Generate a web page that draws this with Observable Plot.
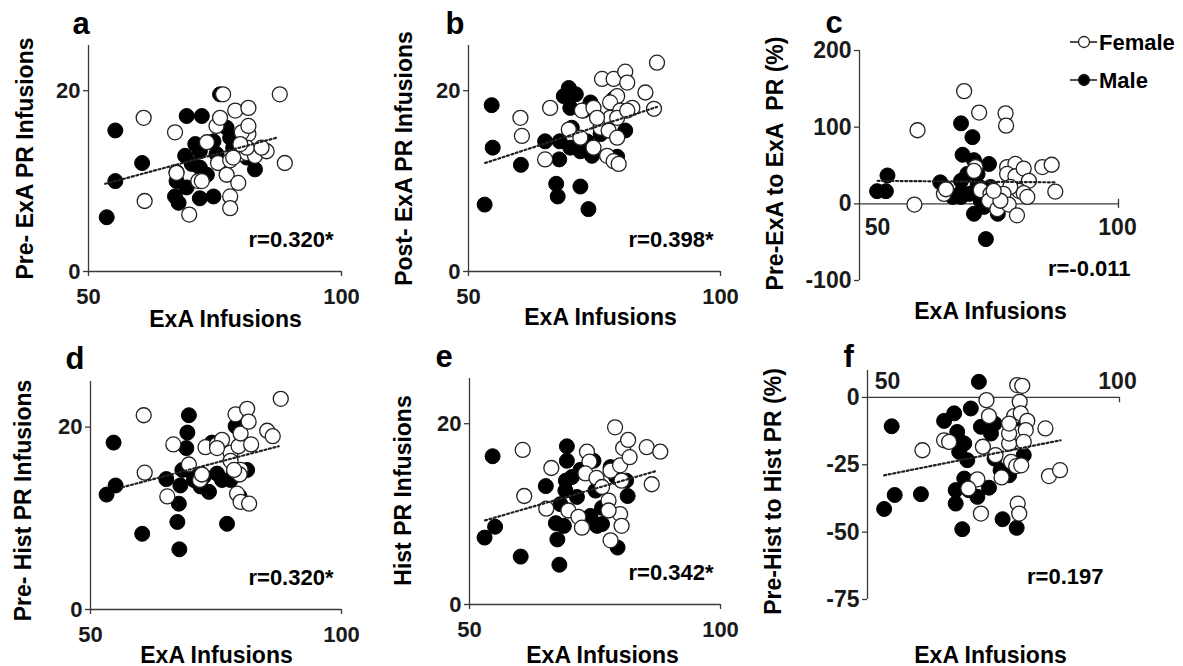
<!DOCTYPE html>
<html><head><meta charset="utf-8">
<script src="https://cdn.jsdelivr.net/npm/d3@7"></script>
<script src="https://cdn.jsdelivr.net/npm/@observablehq/plot@0.6"></script>
<style>
body{margin:0;background:#fff;}
#chart{position:relative;width:1183px;height:666px;overflow:hidden;background:#fff;font-family:"Liberation Sans",Arial,sans-serif;}
#chart > svg{position:absolute;overflow:visible;}
#chart text{white-space:pre;}
</style></head><body><div id="chart"></div>
<script>
// ---------- data ----------
const xTicks = [50, 100];
const yTicksCount = [0, 20];
const yTicksC = [-100, 0, 100, 200];
const yTicksF = [-75, -50, -25, 0];

const maleA = [[53.6,6.0],[55.3,15.6],[55.3,10.0],[60.6,12.0],[67.4,11.0],[69.4,17.2],[72.4,17.2],[71.1,14.1],[69.1,12.8],[70.4,11.9],[67.4,10.0],[69.4,9.3],[67.1,8.3],[67.8,7.6],[72.0,11.5],[73.4,10.7],[74.7,8.3],[72.0,8.1],[76.0,19.6],[74.7,14.4],[77.3,15.9],[78.0,14.8],[78.6,13.7],[82.9,11.3],[81.3,12.6],[72.0,13.3],[75.3,13.0]];
const femaleA = [[76.6,19.6],[87.8,19.6],[60.9,17.0],[67.1,15.4],[61.1,7.8],[67.4,10.9],[69.9,6.3],[71.7,10.0],[72.4,10.0],[73.4,14.3],[75.3,16.1],[76.0,17.0],[75.6,12.0],[77.3,10.7],[78.0,12.3],[79.0,17.8],[80.0,13.0],[81.6,18.1],[81.6,15.2],[80.3,15.4],[81.6,16.1],[81.3,13.1],[82.9,12.8],[81.3,13.7],[79.6,9.8],[78.0,8.3],[78.0,7.0],[85.2,13.3],[84.2,13.7],[88.8,12.0],[80.0,14.1],[78.6,12.6]];
const trendA = [[53.3,9.7],[87.2,14.8]];

const maleB = [[53.2,7.4],[54.6,18.4],[54.8,13.7],[60.4,11.8],[65.2,14.4],[68.1,14.4],[68.0,12.4],[67.4,9.7],[67.7,8.3],[72.2,9.4],[73.8,6.9],[69.9,20.3],[68.9,19.4],[71.3,19.6],[70.2,18.1],[72.8,17.8],[74.2,18.7],[70.5,15.9],[70.2,13.7],[72.2,13.3],[74.5,12.8],[73.5,14.4],[76.2,15.2],[78.8,19.1],[79.5,12.7],[81.1,15.6],[76.2,15.9]];
const femaleB = [[60.3,17.0],[60.6,15.0],[65.2,12.4],[66.2,18.1],[69.9,15.7],[72.2,14.8],[74.8,13.7],[72.5,17.8],[74.8,18.1],[76.2,15.9],[76.5,21.3],[78.8,21.3],[81.1,22.1],[81.5,20.9],[79.5,19.4],[78.1,18.7],[80.1,17.8],[78.1,17.0],[79.5,17.0],[77.8,15.6],[79.5,14.8],[77.5,12.8],[78.8,12.2],[79.8,11.9],[82.5,18.1],[85.1,19.8],[86.8,18.0],[87.4,23.1],[81.5,17.8],[75.5,17.0]];
const trendB = [[53.3,12.0],[87.4,18.2]];

const maleC = [[53.4,16.5],[55.1,16.5],[55.4,37],[65.6,28],[66.7,20],[68.0,9],[69.6,105],[71.8,87],[69.9,64],[69.6,30],[70.8,39],[72.1,57],[72.8,39],[75.0,52],[69.6,15],[71.2,13],[72.1,-13],[74.0,-4],[74.4,-46],[76.7,-13],[75.3,22],[73.4,4],[76.0,9],[72.8,24],[69.6,9]];
const femaleC = [[61.2,96],[60.6,-1],[66.3,13],[66.7,19],[70.2,147],[73.1,119],[72.4,48],[72.1,43],[73.4,18],[75.3,13],[75.0,4],[76.6,-7],[78.2,118],[78.3,102],[78.5,48],[80.1,52],[78.5,39],[80.1,36],[81.7,46],[82.7,30],[80.8,17],[79.1,22],[77.8,13],[78.8,-1],[80.4,-15],[81.7,14],[82.4,9],[85.3,48],[87.1,51],[87.8,16],[77.2,4],[75.9,17]];
const trendC = [[53.5,30],[88.1,28]];

const maleD = [[53.2,12.6],[55.0,13.6],[54.6,18.3],[60.3,8.3],[65.1,14.3],[67.9,13.6],[67.6,11.6],[67.3,9.6],[67.7,6.6],[69.6,21.3],[69.3,19.4],[69.1,17.7],[69.6,15.3],[68.3,15.3],[70.6,14.2],[71.9,13.5],[73.6,12.9],[74.2,18.3],[75.2,14.9],[76.2,14.2],[77.2,9.4],[78.5,14.9],[78.9,20.1],[79.7,12.4],[81.2,15.3],[77.9,14.2],[72.6,14.6]];
const femaleD = [[60.6,21.3],[60.8,15.0],[65.3,12.4],[66.5,18.1],[69.6,15.9],[71.8,14.2],[72.2,14.8],[72.9,17.8],[75.2,18.1],[76.2,18.6],[77.9,17.2],[79.5,17.9],[79.9,19.3],[78.9,21.4],[81.2,22.0],[81.5,20.6],[82.0,18.1],[77.9,16.3],[79.9,15.3],[79.7,14.8],[79.2,12.7],[79.9,11.8],[81.6,11.6],[85.2,19.6],[86.3,19.0],[87.9,23.1],[78.6,15.3],[75.2,17.7]];
const trendD = [[56.3,13.4],[87.5,17.9]];

const maleE = [[53.0,7.4],[55.1,8.6],[54.6,16.4],[60.2,5.3],[65.2,13.1],[67.2,9.0],[67.5,7.2],[67.9,4.4],[68.8,8.7],[69.4,17.5],[69.4,15.9],[69.2,13.7],[69.1,12.6],[68.1,11.1],[70.4,14.1],[71.4,11.9],[72.1,14.9],[74.1,9.8],[75.4,8.7],[76.4,8.9],[75.1,12.6],[76.4,10.7],[74.7,15.9],[78.1,15.2],[79.5,6.3],[81.2,13.7],[81.5,12.0],[79.2,14.1]];
const femaleE = [[60.6,17.1],[60.9,12.0],[65.3,10.6],[66.3,15.1],[69.7,10.4],[71.7,9.7],[72.4,8.5],[73.4,16.9],[73.9,15.8],[73.1,14.5],[75.3,14.0],[76.4,13.0],[77.7,11.5],[78.1,14.8],[79.0,19.6],[80.0,15.4],[80.3,13.7],[80.0,10.0],[80.3,8.7],[78.1,7.1],[80.6,17.3],[81.6,18.2],[81.9,16.3],[85.3,17.4],[86.3,13.3],[88.0,16.9],[77.7,10.4]];
const trendE = [[53.1,9.3],[87.4,14.8]];

const maleF = [[53.3,-41.4],[55.4,-36.2],[54.8,-10.7],[60.6,-35.9],[72.1,5.8],[65.2,-8.7],[67.2,-5.9],[70.5,-4.1],[67.8,-12.8],[68.5,-16.5],[69.2,-17.1],[68.2,-20.2],[69.8,-23.3],[69.2,-30.1],[67.5,-34.4],[67.5,-39.4],[68.8,-48.9],[70.1,-34.4],[71.8,-36.9],[74.1,-33.5],[72.5,-10.9],[74.5,-13.4],[75.2,-9.7],[76.4,-27.0],[78.1,-28.9],[76.8,-45.2],[79.6,-48.4],[81.0,-21.4],[79.7,-7.8],[75.2,-22.7]];
const femaleF = [[60.9,-19.6],[65.2,-15.9],[66.2,-16.5],[73.6,-1.0],[74.1,-6.9],[72.9,-18.3],[75.4,-21.4],[71.8,-30.4],[70.0,-33.8],[72.5,-43.1],[76.6,-29.7],[78.1,-17.1],[78.1,-13.4],[79.1,-6.9],[78.1,-9.7],[79.7,4.6],[80.7,4.3],[80.2,-1.6],[80.4,-5.9],[81.7,-8.7],[81.4,-12.1],[81.0,-16.5],[78.5,-23.9],[79.5,-25.5],[80.5,-25.2],[79.8,-39.4],[80.1,-43.1],[85.3,-11.5],[86.0,-29.2],[88.2,-27.0]];
const trendF = [[53.3,-28.9],[88.3,-15.9]];

const letters = ["a","b","c","d","e","f"];
const yLabels = ["Pre- ExA PR Infusions","Post- ExA PR Infusions","Pre-ExA to ExA  PR (%)","Pre- Hist PR Infusions","Hist PR Infusions","Pre-Hist to Hist PR (%)"];
const xLabel = "ExA Infusions";
const rLabels = ["r=0.320*","r=0.398*","r=-0.011","r=0.320*","r=0.342*","r=0.197"];
const legendLabels = ["Female","Male"];

// ---------- drawing ----------
const FONT = "Liberation Sans, Arial, sans-serif";
const INK = "#1a1a1a";
const AXIS = "#3a3a3a";

function panel(cfg) {
  const {i, left, top, width, height, ml, mr, mt, mb, yDomain, yTicks, male, female, trend, inlineX,
         letterPos, yLabelPos, xLabelPos, rPos, xTickPos, tickFont} = cfg;
  const fx = ml, fy = mt, fw = width - ml - mr, fh = height - mt - mb;
  const marks = [
    Plot.ruleX([50], {stroke: AXIS, strokeWidth: 1.3}),
    Plot.ruleY([0], {stroke: AXIS, strokeWidth: 1.3}),
    Plot.axisY(yTicks, {tickSize: 5, tickPadding: 3, tickFormat: d => String(d), fontSize: tickFont, fontWeight: "bold", stroke: AXIS, strokeWidth: 1.3, fill: INK, label: null})
  ];
  if (!inlineX) {
    marks.push(Plot.axisX(xTicks, {tickSize: 5, tickPadding: 12, fontSize: tickFont, fontWeight: "bold", stroke: AXIS, strokeWidth: 1.3, fill: INK, label: null}));
  } else {
    marks.push(Plot.ruleX([100], {y1: inlineX.t1, y2: inlineX.t2, stroke: AXIS, strokeWidth: 1.3}));
    xTicks.forEach((t, k) => {
      marks.push(Plot.text([t], {x: d => d, y: 0, text: d => String(d), dx: xTickPos[k][0] - (left + fx + (t - 50) / 50 * fw), dy: xTickPos[k][1], lineAnchor: "bottom", fontSize: tickFont, fontWeight: "bold", fill: INK}));
    });
  }
  marks.push(
    Plot.dot(male, {x: d => d[0], y: d => d[1], r: 7.5, fill: "#000", stroke: "#000", strokeWidth: 1}),
    Plot.dot(female, {x: d => d[0], y: d => d[1], r: 7.5, fill: "#fff", stroke: "#222", strokeWidth: 1.3}),
    Plot.line(trend, {x: d => d[0], y: d => d[1], stroke: "#222", strokeWidth: 2.2, strokeDasharray: "2,2.6"}),
    Plot.text([letters[i]], {frameAnchor: "top-left", text: d => d, textAnchor: "start", lineAnchor: "bottom",
      dx: letterPos[0] - left - fx, dy: letterPos[1] - top - fy, fontSize: 31, fontWeight: "bold", fill: "#000"}),
    Plot.text([yLabels[i]], {frameAnchor: "left", text: d => d, rotate: -90, lineAnchor: "middle", textAnchor: "middle",
      dx: yLabelPos[0] - left - fx, dy: yLabelPos[1] - (top + fy + fh / 2), fontSize: 23, fontWeight: "bold", fill: "#000"}),
    Plot.text([xLabel], {frameAnchor: "bottom", text: d => d, lineAnchor: "bottom", textAnchor: "middle",
      dx: xLabelPos[0] - (left + fx + fw / 2), dy: xLabelPos[1] - (top + fy + fh), fontSize: 23, fontWeight: "bold", fill: "#000"}),
    Plot.text([rLabels[i]], {frameAnchor: "bottom-right", text: d => d, lineAnchor: "bottom", textAnchor: "end",
      dx: rPos[0] - (left + fx + fw), dy: rPos[1] - (top + fy + fh), fontSize: 22, fontWeight: "bold", fill: "#000"})
  );
  const svg = Plot.plot({
    width, height, marginLeft: ml, marginRight: mr, marginTop: mt, marginBottom: mb,
    x: {domain: [50, 100], axis: null},
    y: {domain: yDomain, axis: null},
    style: {fontFamily: FONT, fontWeight: "bold", color: INK, background: "transparent", overflow: "visible"},
    marks
  });
  svg.style.left = left + "px";
  svg.style.top = top + "px";
  return svg;
}

const chart = document.getElementById("chart");
const panels = [
  {i:0, left:0, top:0, width:380, height:333, ml:88, mr:39, mt:45, mb:62, yDomain:[0,25], yTicks:yTicksCount, male:maleA, female:femaleA, trend:trendA, tickFont:22,
   letterPos:[72,33], yLabelPos:[25,158], xLabelPos:[225,326], rPos:[333,246]},
  {i:1, left:380, top:0, width:380, height:333, ml:88, mr:40, mt:45, mb:62, yDomain:[0,25], yTicks:yTicksCount, male:maleB, female:femaleB, trend:trendB, tickFont:22,
   letterPos:[445,33], yLabelPos:[404,158], xLabelPos:[600,324], rPos:[713,246]},
  {i:2, left:760, top:0, width:423, height:333, ml:99, mr:65, mt:50, mb:53, yDomain:[-100,200], yTicks:yTicksC, male:maleC, female:femaleC, trend:trendC, tickFont:23,
   inlineX:{t1:-6, t2:6}, xTickPos:[[877,31],[1117,31]],
   letterPos:[825,32], yLabelPos:[775,163], xLabelPos:[990,318], rPos:[1130,275]},
  {i:3, left:0, top:333, width:380, height:333, ml:90, mr:39, mt:48, mb:57, yDomain:[0,25], yTicks:yTicksCount, male:maleD, female:femaleD, trend:trendD, tickFont:22,
   letterPos:[65,368], yLabelPos:[23,500], xLabelPos:[216,662], rPos:[333,584]},
  {i:4, left:380, top:333, width:380, height:333, ml:89, mr:40, mt:45, mb:62, yDomain:[0,25], yTicks:yTicksCount, male:maleE, female:femaleE, trend:trendE, tickFont:22,
   letterPos:[435,366], yLabelPos:[403,490], xLabelPos:[602,662], rPos:[713,579]},
  {i:5, left:760, top:333, width:423, height:333, ml:107, mr:64, mt:37, mb:67, yDomain:[-75,10], yTicks:yTicksF, male:maleF, female:femaleF, trend:trendF, tickFont:23,
   inlineX:{t1:-2, t2:0}, xTickPos:[[887,-8],[1117,-8]],
   letterPos:[843,366], yLabelPos:[773,491], xLabelPos:[990,662], rPos:[1103,583]}
];
panels.forEach(p => chart.appendChild(panel(p)));

// legend
const ns = "http://www.w3.org/2000/svg";
const leg = document.createElementNS(ns, "svg");
leg.setAttribute("width", 1183); leg.setAttribute("height", 666);
leg.style.left = "0px"; leg.style.top = "0px"; leg.style.pointerEvents = "none";
legendLabels.forEach((lab, k) => {
  const cy = k === 0 ? 42 : 80;
  const line = document.createElementNS(ns, "line");
  Object.entries({x1:1070, x2:1097, y1:cy, y2:cy, stroke:"#222", "stroke-width":1.6}).forEach(([a,v]) => line.setAttribute(a, v));
  leg.appendChild(line);
  const c = document.createElementNS(ns, "circle");
  Object.entries({cx:1084, cy, r:5.5, fill: k === 0 ? "#fff" : "#000", stroke:"#222", "stroke-width":1.3}).forEach(([a,v]) => c.setAttribute(a, v));
  leg.appendChild(c);
  const t = document.createElementNS(ns, "text");
  Object.entries({x:1099, y:cy + 8, "font-size":22, "font-weight":"bold", "font-family":FONT, fill:"#000"}).forEach(([a,v]) => t.setAttribute(a, v));
  t.textContent = lab;
  leg.appendChild(t);
});
chart.appendChild(leg);
</script></body></html>
